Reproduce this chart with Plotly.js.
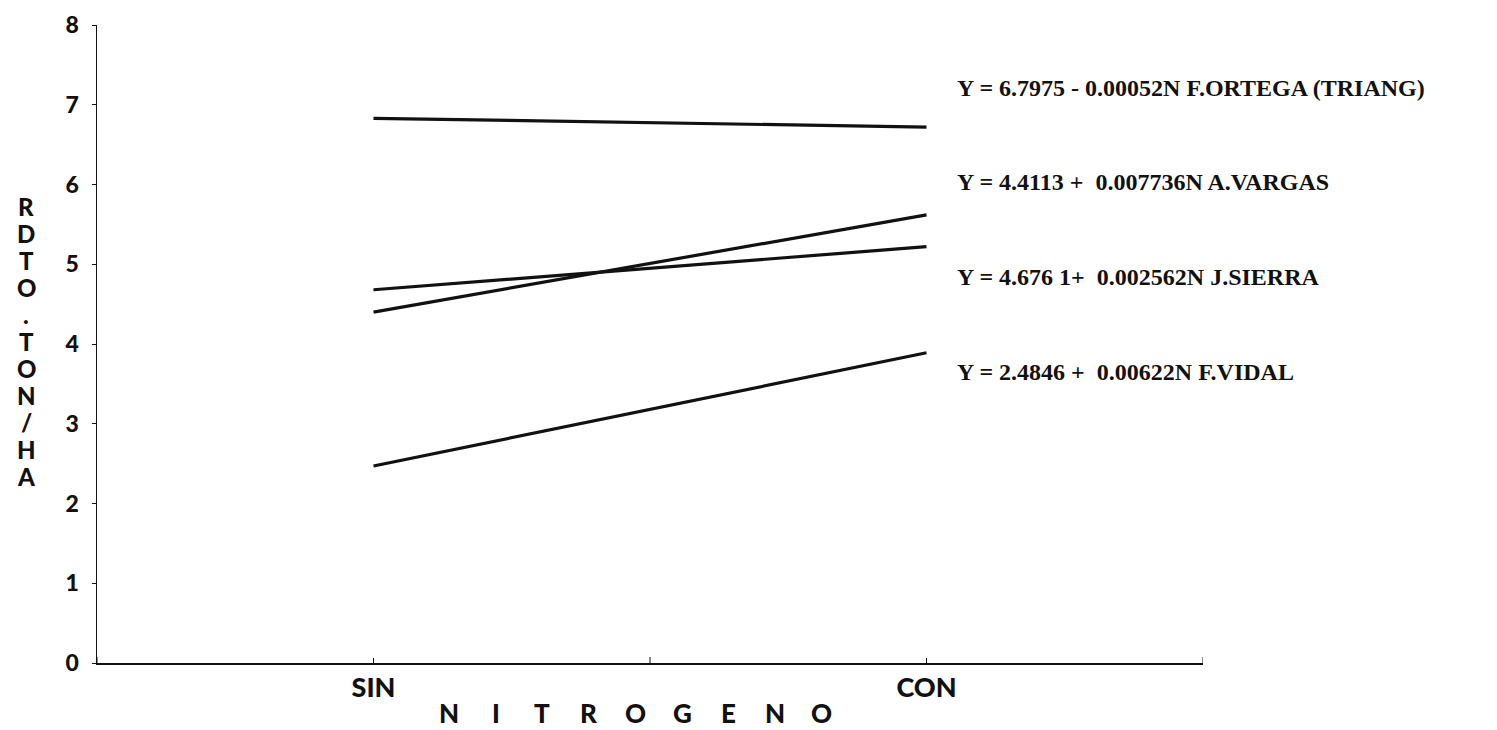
<!DOCTYPE html>
<html>
<head>
<meta charset="utf-8">
<script src="https://cdn.plot.ly/plotly-3.0.1.min.js"></script>
<style>
  html, body { margin: 0; padding: 0; background: #fff; }
  #chart { width: 1497px; height: 730px; }
</style>
</head>
<body>
<div id="chart"></div>
<script>
// Nitrogen treatment levels (x categories)
const nitrogen = ['SIN', 'CON'];

// Yield (ton/ha) per farm, without and with nitrogen
const ortega = [6.83, 6.72];
const vargas = [4.40, 5.62];
const sierra = [4.68, 5.22];
const vidal  = [2.47, 3.89];

// Fitted regression equations shown beside each line
const equations = [
  'Y = 6.7975 - 0.00052N F.ORTEGA (TRIANG)',
  'Y = 4.4113 +  0.007736N A.VARGAS',
  'Y = 4.676 1+  0.002562N J.SIERRA',
  'Y = 2.4846 +  0.00622N F.VIDAL'
];

const yTicks = [0, 1, 2, 3, 4, 5, 6, 7, 8];
const yTitle = 'RDTO.TON/HA';
const xTitle = 'NITROGENO';

const W = 1497, H = 730;
const M = { l: 97, r: 294, t: 25, b: 67 };
const plotW = W - M.l - M.r;
const plotH = H - M.t - M.b;

// helpers converting page pixels to paper coordinates for text placement
const px = x => (x - M.l) / plotW;
const py = y => (H - M.b - y) / plotH;

const heavy = { family: 'Lato', color: '#111', weight: 900 };

const line = { color: '#111', width: 3.2 };
const traces = [ortega, vargas, sierra, vidal].map(vals => ({
  type: 'scatter', mode: 'lines', x: nitrogen, y: vals,
  line: line, hoverinfo: 'skip', showlegend: false
}));

const annotations = [];

// equation labels
const eqY = [88, 182, 277, 372];
equations.forEach((t, i) => annotations.push({
  xref: 'paper', yref: 'paper', x: px(955), y: py(eqY[i]),
  xanchor: 'left', yanchor: 'middle', showarrow: false, text: t,
  font: { family: 'Liberation Serif', size: 24, color: '#111', weight: 'bold' }
}));

// stacked vertical y title
yTitle.split('').forEach((ch, i) => annotations.push({
  xref: 'paper', yref: 'paper', x: px(26), y: py(206 + i * 27.1),
  xanchor: 'center', yanchor: 'middle', showarrow: false, text: ch,
  font: Object.assign({ size: 24 }, heavy)
}));

// letter-spaced x title
xTitle.split('').forEach((ch, i) => annotations.push({
  xref: 'paper', yref: 'paper', x: px(449 + i * 46.6), y: py(713),
  xanchor: 'center', yanchor: 'middle', showarrow: false, text: ch,
  font: Object.assign({ size: 26 }, heavy)
}));

// small extra tick marks at the axis ends and midway between categories
const shapes = [-0.5, 0.5, 1.5].map(v => ({
  type: 'line', xref: 'x', yref: 'paper', x0: v, x1: v, y0: 0, y1: 6 / plotH,
  line: { color: '#111', width: 1 }
}));

const layout = {
  width: W, height: H,
  margin: M,
  paper_bgcolor: '#fff', plot_bgcolor: '#fff',
  xaxis: {
    type: 'category', range: [-0.5, 1.5],
    showline: true, linecolor: '#111', linewidth: 1.5,
    showgrid: false, zeroline: false,
    ticks: 'inside', ticklen: 5, tickcolor: '#111', tickwidth: 1,
    tickfont: Object.assign({ size: 27 }, heavy)
  },
  yaxis: {
    range: [0, 8], tickvals: yTicks,
    showline: true, linecolor: '#111', linewidth: 1.5,
    showgrid: false, zeroline: false,
    ticks: 'outside', ticklen: 4, tickcolor: '#111', tickwidth: 1,
    ticklabelstandoff: 8,
    tickfont: Object.assign({ size: 23 }, heavy)
  },
  annotations: annotations,
  shapes: shapes
};

Plotly.newPlot('chart', traces, layout, { staticPlot: true, displayModeBar: false });
</script>
</body>
</html>
